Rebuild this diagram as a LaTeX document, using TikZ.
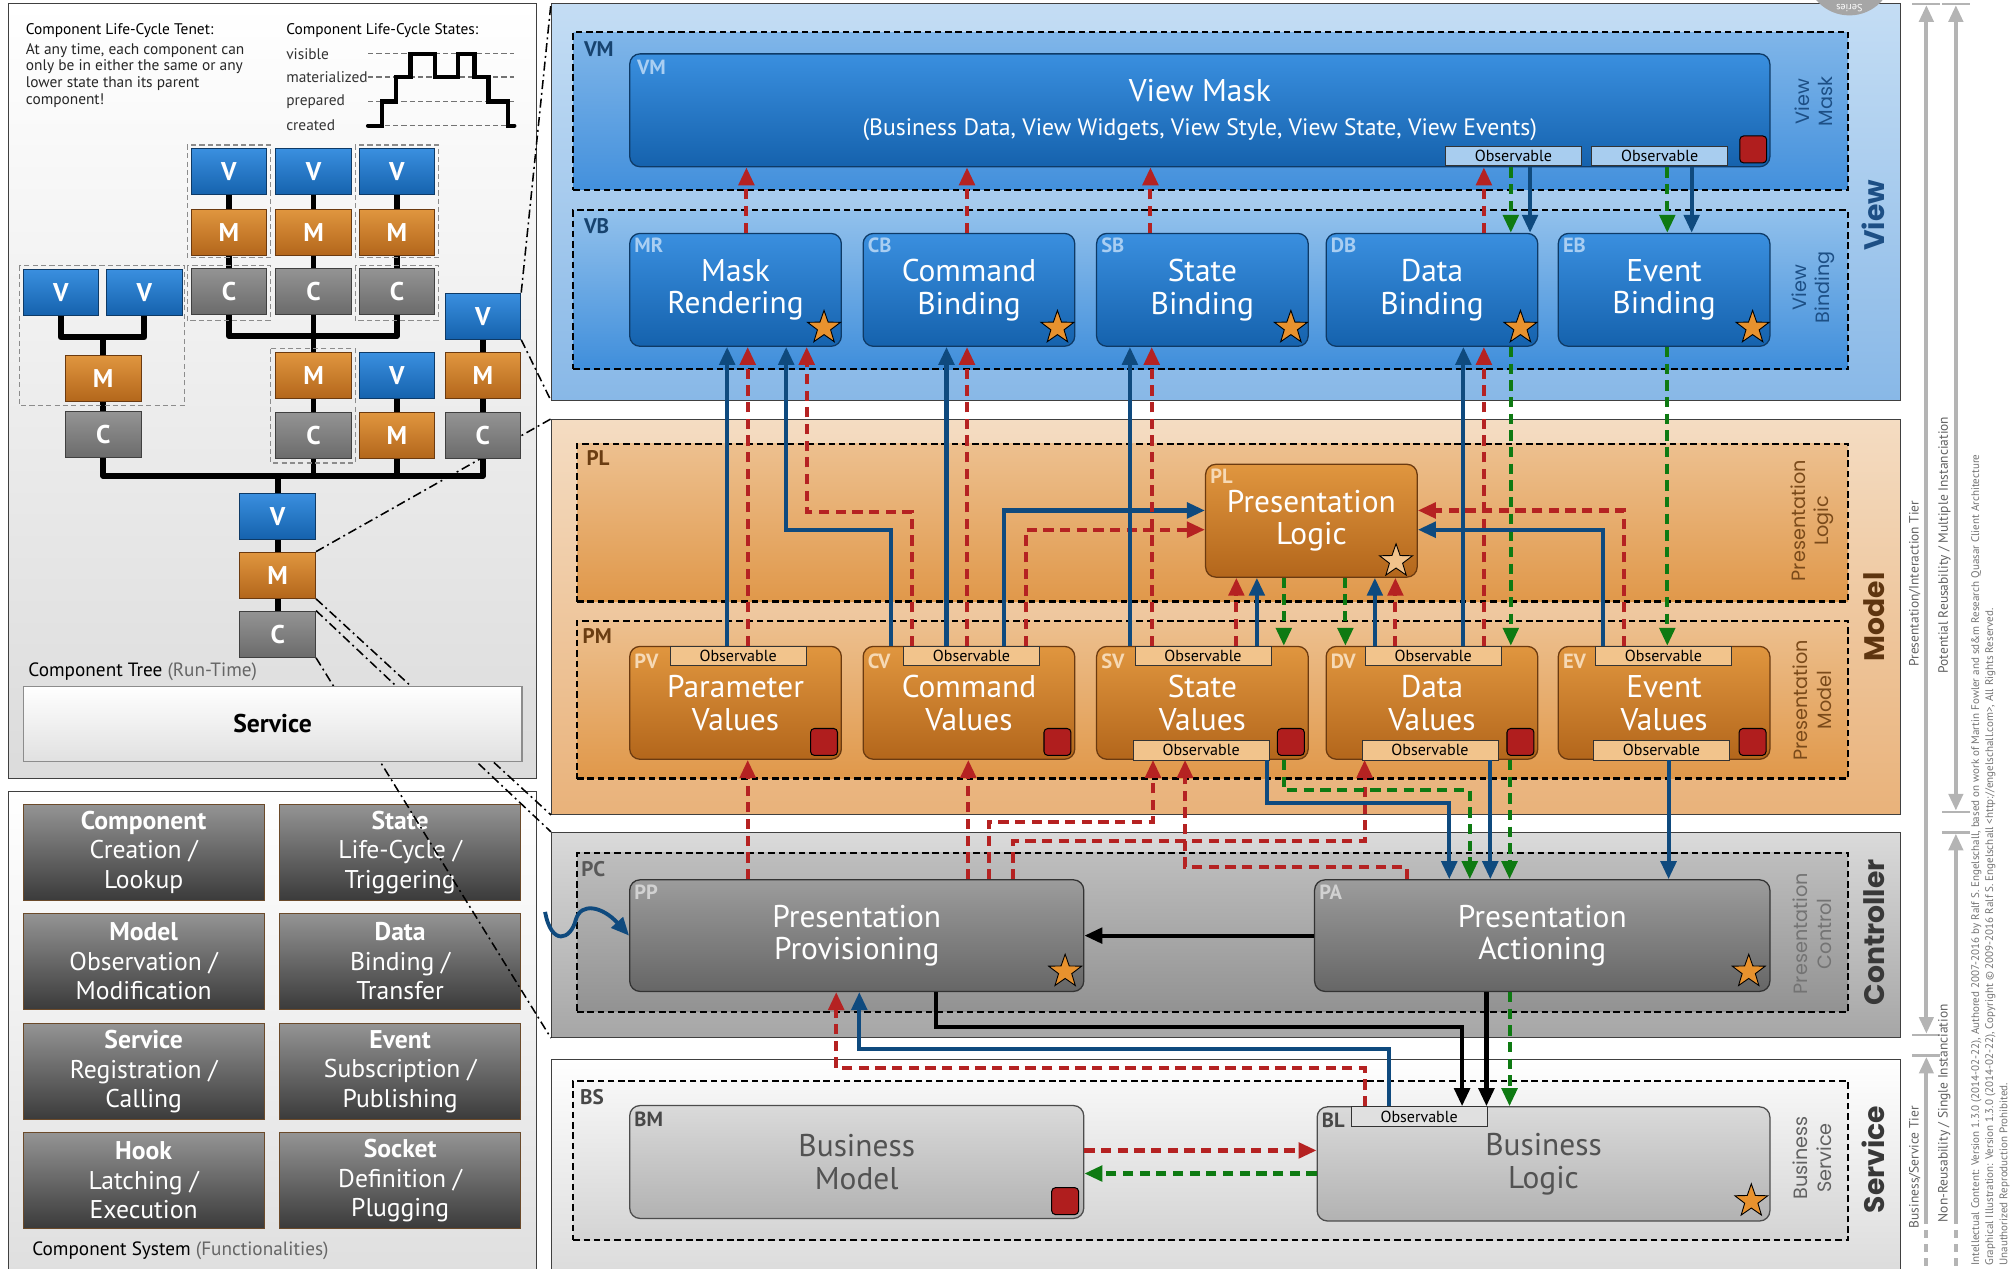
\documentclass[tikz,border=0pt]{standalone}
\usepackage{fontspec}
\setmainfont{PT Sans}
\newfontfamily\geo{Poppins}
\usetikzlibrary{arrows.meta,shapes.geometric,calc}
\definecolor{cblue}{HTML}{0F4A7E}
\definecolor{cred}{HTML}{B52222}
\definecolor{cgreen}{HTML}{0E7A12}
\definecolor{btop}{HTML}{3A8FDF}
\definecolor{bbot}{HTML}{1562AD}
\definecolor{bbd}{HTML}{0E3A66}
\definecolor{otop}{HTML}{E0963F}
\definecolor{obot}{HTML}{B3661B}
\definecolor{obd}{HTML}{6B3A10}
\definecolor{gtop}{HTML}{9C9C9C}
\definecolor{gbot}{HTML}{666666}
\definecolor{ltop}{HTML}{DADADA}
\definecolor{lbot}{HTML}{B2B2B2}
\definecolor{staror}{HTML}{E8922E}
\definecolor{sqred}{HTML}{B01E1E}
\definecolor{rgrey}{HTML}{B4B4B4}
\definecolor{obsblue}{HTML}{A8CDEF}
\definecolor{obsor}{HTML}{F2C48C}
\definecolor{vtop}{HTML}{C4DDF4}
\definecolor{vbot}{HTML}{88B8E7}
\definecolor{vmtop}{HTML}{80B6E9}
\definecolor{vmbot}{HTML}{4390DC}
\definecolor{vbtop}{HTML}{92C1EC}
\definecolor{vbbot}{HTML}{3F8EDB}
\definecolor{mtop}{HTML}{F4DCC2}
\definecolor{mbot}{HTML}{E9B27A}
\definecolor{pltop}{HTML}{EDC08F}
\definecolor{plbot}{HTML}{E0984A}
\definecolor{ctop}{HTML}{DADADA}
\definecolor{cbot}{HTML}{A6A6A6}
\definecolor{pctop}{HTML}{BEBEBE}
\definecolor{pcbot}{HTML}{929292}
\definecolor{fbd}{HTML}{6B4A2A}
\definecolor{blbl}{HTML}{A9CEF2}
\definecolor{orlbl}{HTML}{F6D9B5}
\definecolor{vtxt}{HTML}{17436F}
\definecolor{mtxt}{HTML}{6A3D12}
\definecolor{vlbl}{HTML}{1D4F85}
\definecolor{mlbl}{HTML}{7A4A1A}
\definecolor{mtier}{HTML}{5E3510}
\pgfdeclarelayer{panels}
\pgfdeclarelayer{lines}
\pgfsetlayers{panels,lines,main}
\begin{document}
\begin{tikzpicture}[x=1pt,y=-1pt,
  >={Triangle[length=14pt,width=12pt]},
  panel/.style={draw=black!75, line width=0.8pt, inner sep=0pt},
  zone/.style={draw=black, line width=1.7pt, dash pattern=on 5pt off 3pt, inner sep=0pt},
  basebox/.style={rounded corners=8pt, line width=1pt, align=center, inner sep=0pt, font=\fontsize{24.5}{25.5}\selectfont},
  bbox/.style={basebox, draw=bbd, top color=btop, bottom color=bbot, text=white},
  obox/.style={basebox, draw=obd, top color=otop, bottom color=obot, text=white},
  gbox/.style={basebox, draw=black!80, top color=gtop, bottom color=gbot, text=white},
  lbox/.style={basebox, draw=black!70, top color=ltop, bottom color=lbot, text=black!68},
  sbox/.style={minimum width=165, minimum height=88},
  wbox/.style={minimum width=354, minimum height=88},
  obstag/.style={draw=black!80, line width=0.6pt, minimum width=106, minimum height=15, inner sep=0pt, font=\fontsize{12.5}{12.5}\selectfont},
  obsb/.style={obstag, fill=obsblue}, obso/.style={obstag, fill=obsor}, obsl/.style={obstag, fill=black!12},
  rsq/.style={rounded corners=3pt, fill=sqred, draw=black, line width=0.8pt, minimum width=21, minimum height=21, inner sep=0pt},
  starn/.style={star, star points=5, star point ratio=2.5, minimum size=27, inner sep=0pt, fill=staror, draw=black, line width=0.7pt},
  taglbl/.style={anchor=north west, inner sep=0pt, font=\bfseries\fontsize{16}{16}\selectfont},
  zonelbl/.style={anchor=north west, inner sep=0pt, font=\bfseries\fontsize{16.5}{16.5}\selectfont},
  vlab/.style={rotate=90, align=center, inner sep=0pt, font=\geo\fontsize{15}{18}\selectfont},
  tierlbl/.style={rotate=90, inner sep=0pt, font=\geo\bfseries\fontsize{22}{22}\selectfont},
  lnblue/.style={draw=cblue, line width=3.2pt},
  lnred/.style={draw=cred, line width=3.2pt, dash pattern=on 8pt off 5pt},
  lngreen/.style={draw=cgreen, line width=3.2pt, dash pattern=on 8pt off 5pt},
  lnblack/.style={draw=black, line width=3.2pt},
  tnode/.style={minimum width=59, minimum height=36, inner sep=0pt, line width=0.8pt, text=white, font=\bfseries\fontsize{20}{20}\selectfont},
  tvbox/.style={tnode, draw=bbd, top color=btop, bottom color=bbot},
  tmbox/.style={tnode, draw=obd, top color=otop, bottom color=obot},
  tcbox/.style={tnode, draw=black!75, top color=black!42, bottom color=black!58},
  treeln/.style={line width=4.5pt, line join=round},
  grpbox/.style={draw=black!45, line width=0.9pt, dash pattern=on 4pt off 2.5pt},
  zoomln/.style={draw=black, line width=1.2pt, dash pattern=on 7pt off 3pt on 1.5pt off 3pt},
  fbox/.style={minimum width=188, minimum height=75, inner sep=0pt, draw=fbd, line width=0.9pt, top color=black!42, bottom color=black!77, text=white, align=center, font=\fontsize{20}{23}\selectfont},
  stripln/.style={draw=rgrey, line width=3pt},
  striptxt/.style={rotate=90, inner sep=0pt, text=black!62, font=\fontsize{10.5}{11}\selectfont},
  copytxt/.style={rotate=90, anchor=west, inner sep=0pt, text=black!55, font=\fontsize{8.6}{9}\selectfont},
]
\useasboundingbox (0,0) rectangle (1568,989);

% ================= PANELS =================
\begin{pgfonlayer}{panels}
\node[panel, top color=white, bottom color=black!14, minimum width=411, minimum height=604] (treepanel) at (212.5,305) {};
\node[panel, top color=white, bottom color=black!13, minimum width=411, minimum height=390] (funcpanel) at (212.5,812) {};
\node[panel, top color=vtop, bottom color=vbot, minimum width=1052, minimum height=309] (view) at (956,157.5) {};
\node[panel, top color=mtop, bottom color=mbot, minimum width=1052, minimum height=308] (model) at (956,481) {};
\node[panel, top color=ctop, bottom color=cbot, minimum width=1052, minimum height=160] (ctrl) at (956,729) {};
\node[panel, top color=white, bottom color=black!15, minimum width=1052, minimum height=180] (serv) at (956,916) {};
% zones
\node[zone, top color=vmtop, bottom color=vmbot, minimum width=994, minimum height=123] (vmz) at (944,86.5) {};
\node[zone, top color=vbtop, bottom color=vbbot, minimum width=994, minimum height=124] (vbz) at (944,226) {};
\node[zone, top color=pltop, bottom color=plbot, minimum width=991, minimum height=123] (plz) at (945.5,407.5) {};
\node[zone, top color=pltop, bottom color=plbot, minimum width=991, minimum height=123] (pmz) at (945.5,545.5) {};
\node[zone, top color=pctop, bottom color=pcbot, minimum width=991, minimum height=124] (pcz) at (945.5,727) {};
\node[zone, top color=black!3, bottom color=black!17, minimum width=994, minimum height=124] (bsz) at (944,905) {};
% function boxes
\node[fbox] (fb1) at (112,664.5) {\textbf{Component}\\Creation /\\Lookup};
\node[fbox] (fb2) at (312,664.5) {\textbf{State}\\Life-Cycle /\\Triggering};
\node[fbox] (fb3) at (112,749.5) {\textbf{Model}\\Observation /\\Modification};
\node[fbox] (fb4) at (312,749.5) {\textbf{Data}\\Binding /\\Transfer};
\node[fbox] (fb5) at (112,835.5) {\textbf{Service}\\Registration /\\Calling};
\node[fbox] (fb6) at (312,835.5) {\textbf{Event}\\Subscription /\\Publishing};
\node[fbox] (fb7) at (112,920.5) {\textbf{Hook}\\Latching /\\Execution};
\node[fbox] (fb8) at (312,920.5) {\textbf{Socket}\\Definition /\\Plugging};
\end{pgfonlayer}

% zone labels
\node[zonelbl, text=vtxt] (vmzl) at ($(vmz.north west)+(9,8)$) {VM};
\node[zonelbl, text=vtxt] (vbzl) at ($(vbz.north west)+(9,7)$) {VB};
\node[zonelbl, text=mtxt] (plzl) at ($(plz.north west)+(8,6)$) {PL};
\node[zonelbl, text=mtxt] (pmzl) at ($(pmz.north west)+(5,7)$) {PM};
\node[zonelbl, text=black!65] (pczl) at ($(pcz.north west)+(4,7)$) {PC};
\node[zonelbl, text=black!72] (bszl) at ($(bsz.north west)+(6,7)$) {BS};

% vertical sub-layer labels
\node[vlab, text=vlbl] (lvm) at (1414,79) {View\\Mask};
\node[vlab, text=vlbl] (lvb) at (1414,224) {View\\Binding};
\node[vlab, text=mlbl] (lpl) at (1413,406) {Presentation\\Logic};
\node[vlab, text=mlbl] (lpm) at (1413,546) {Presentation\\Model};
\node[vlab, text=black!55] (lpc) at (1413,728) {Presentation\\Control};
\node[vlab, text=black!62] (lbs) at (1413,903) {Business\\Service};
% tier labels
\node[tierlbl, text=vlbl] (tview) at (1461,168) {View};
\node[tierlbl, text=mtier] (tmodel) at (1461,481) {Model};
\node[tierlbl, text=black!78] (tctrl) at (1461,727) {Controller};
\node[tierlbl, text=black!78] (tserv) at (1461,904) {Service};

% series badge
\fill[black!35] (1442,-22) circle (34);
\node[rotate=180, inner sep=0pt, text=white, font=\fontsize{8}{8}\selectfont] (series) at (1442,6) {Series};

% ================= TOP LEFT TEXT =================
\node[anchor=base west, inner sep=0pt, font=\fontsize{12}{13}\selectfont] (tenet) at (20,27) {Component Life-Cycle Tenet:};
\node[anchor=north west, inner sep=0pt, align=left, text=black!85, font=\fontsize{12}{13}\selectfont] (tenettxt) at (20,33.5) {At any time, each component can\\only be in either the same or any\\lower state than its parent\\component!};
\node[anchor=base west, inner sep=0pt, font=\fontsize{12}{13}\selectfont] (states) at (223,27) {Component Life-Cycle States:};
\node[anchor=west, inner sep=0pt, text=black!80, font=\fontsize{12}{13}\selectfont] (stvis) at (223,42) {visible};
\node[anchor=west, inner sep=0pt, text=black!80, font=\fontsize{12}{13}\selectfont] (stmat) at (223,60) {materialized};
\node[anchor=west, inner sep=0pt, text=black!80, font=\fontsize{12}{13}\selectfont] (stprep) at (223,79) {prepared};
\node[anchor=west, inner sep=0pt, text=black!80, font=\fontsize{12}{13}\selectfont] (stcre) at (223,98) {created};
\foreach \yy in {42,60,79,98} \draw[black!55, line width=0.9pt, dash pattern=on 4pt off 2.5pt] (287,\yy) -- (401,\yy);
\draw[black, line width=3.4pt, line cap=round, line join=miter] (287,98) -- (298,98) -- (298,79) -- (309,79) -- (309,60) -- (320,60) -- (320,42) -- (339,42) -- (339,60) -- (357,60) -- (357,42) -- (370,42) -- (370,60) -- (381,60) -- (381,79) -- (396,79) -- (396,98) -- (401,98);

% ================= TREE =================
\node[tvbox] (v1) at (178.5,134) {V};
\node[tvbox] (v2) at (244.5,134) {V};
\node[tvbox] (v3) at (309.5,134) {V};
\node[tmbox] (m1) at (178.5,181) {M};
\node[tmbox] (m2) at (244.5,181) {M};
\node[tmbox] (m3) at (309.5,181) {M};
\node[tcbox] (c1) at (178.5,227) {C};
\node[tcbox] (c2) at (244.5,227) {C};
\node[tcbox] (c3) at (309.5,227) {C};
\node[tvbox] (lv1) at (47.5,228) {V};
\node[tvbox] (lv2) at (112.5,228) {V};
\node[tvbox] (rv) at (376.5,246.5) {V};
\node[tmbox] (lm) at (80.5,295) {M};
\node[tmbox] (mm) at (244.5,293) {M};
\node[tvbox] (v4) at (309.5,293) {V};
\node[tmbox] (rm) at (376.5,293) {M};
\node[tcbox] (lc) at (80.5,339) {C};
\node[tcbox] (mc) at (244.5,339.5) {C};
\node[tmbox] (m4) at (309.5,339.5) {M};
\node[tcbox] (rc) at (376.5,339.5) {C};
\node[tvbox] (rootv) at (216.5,402.5) {V};
\node[tmbox] (rootm) at (216.5,448.5) {M};
\node[tcbox] (rootc) at (216.5,494.5) {C};
\draw[grpbox] (146,113) rectangle (211,201);
\draw[grpbox] (277,113) rectangle (342,201);
\draw[grpbox] (146,207) rectangle (211,250);
\draw[grpbox] (277,207) rectangle (342,250);
\draw[grpbox] (15,207) rectangle (144,316);
\draw[grpbox] (211,272) rectangle (277,361);

\begin{pgfonlayer}{lines}
\draw[treeln] (v1) -- (c1);
\draw[treeln] (v2) -- (c2);
\draw[treeln] (v3) -- (c3);
\draw[treeln] (c1.south) -- (c1.south |- 0,262) -- (c3.south |- 0,262) -- (c3.south);
\draw[treeln] (c2) -- (mc);
\draw[treeln] (lv1.south) -- (lv1.south |- 0,263) -- (lv2.south |- 0,263) -- (lv2.south);
\draw[treeln] (lm |- 0,263) -- (lc);
\draw[treeln] (rv) -- (rc);
\draw[treeln] (v4) -- (m4);
\draw[treeln] (lc.south) -- (lc.south |- 0,371) -- (rc.south |- 0,371) -- (rc.south);
\draw[treeln] (mc.south) -- (mc.south |- 0,371);
\draw[treeln] (m4.south) -- (m4.south |- 0,371);
\draw[treeln] (rootv |- 0,371) -- (rootc);
\draw[zoomln] (rv.north east) -- (view.north west);
\draw[zoomln] (rv.south east) -- (view.south west);
\draw[zoomln] (rootm.north east) -- (model.north west);
\draw[zoomln] (rootm.south east) -- (model.south west);
\draw[zoomln] (rootc.north east) -- (ctrl.north west);
\draw[zoomln] (rootc.south east) -- (ctrl.south west);
\end{pgfonlayer}

\node[anchor=west, inner sep=0pt, font=\fontsize{15}{15}\selectfont] (ctlabel) at (22,524) {Component Tree \textcolor{black!60}{(Run-Time)}};
\node[draw=black!45, line width=0.9pt, top color=white, bottom color=black!12, minimum width=389, minimum height=59, inner sep=0pt, font=\bfseries\fontsize{20}{20}\selectfont] (svcbox) at (212.5,564.5) {Service};
\node[anchor=west, inner sep=0pt, font=\fontsize{15}{15}\selectfont] (cslabel) at (25,975) {Component System \textcolor{black!60}{(Functionalities)}};

% ================= VIEW =================
\node[bbox, minimum width=889, minimum height=88] (vm) at (935.5,86) {View Mask\\[1pt]{\fontsize{18.5}{19}\selectfont (Business Data, View Widgets, View Style, View State, View Events)}};
\node[taglbl, text=blbl] (vmt) at ($(vm.north west)+(6,5)$) {VM};
\node[obsb] (vmo1) at (1180,121.5) {Observable};
\node[obsb] (vmo2) at (1294,121.5) {Observable};
\node[rsq] (vmsq) at (1367,116.5) {};

\node[bbox, sbox] (mr) at (573.5,226) {Mask\\Rendering};
\node[bbox, sbox] (cb) at (755.5,226) {Command\\Binding};
\node[bbox, sbox] (sb) at (937.5,226) {State\\Binding};
\node[bbox, sbox] (db) at (1116.5,226) {Data\\Binding};
\node[bbox, sbox] (eb) at (1297.5,226) {Event\\Binding};
\foreach \n/\t in {mr/MR,cb/CB,sb/SB,db/DB,eb/EB} {
  \node[taglbl, text=blbl] (\n tag) at ($(\n.north west)+(4,4)$) {\t};
  \node[starn] (\n star) at ($(\n.south east)+(-14,-15)$) {};
}

% ================= MODEL =================
\node[obox, sbox, minimum height=88] (pl) at (1022.5,406) {Presentation\\Logic};
\node[taglbl, text=orlbl] (pltag) at ($(pl.north west)+(4,4)$) {PL};
\node[starn, fill=staror!55] (plstar) at ($(pl.south east)+(-17,-13)$) {};

\node[obox, sbox] (pv) at (573.5,548) {Parameter\\Values};
\node[obox, sbox] (cv) at (755.5,548) {Command\\Values};
\node[obox, sbox] (sv) at (937.5,548) {State\\Values};
\node[obox, sbox] (dv) at (1116.5,548) {Data\\Values};
\node[obox, sbox] (ev) at (1297.5,548) {Event\\Values};
\foreach \n/\t in {pv/PV,cv/CV,sv/SV,dv/DV,ev/EV} {
  \node[taglbl, text=orlbl] (\n tag) at ($(\n.north west)+(4,6)$) {\t};
  \node[rsq] (\n sq) at ($(\n.south east)+(-14,-14)$) {};
}
\node[obso] (pvo) at (575.5,511.5) {Observable};
\node[obso] (cvo) at (757.5,511.5) {Observable};
\node[obso] (svo) at (938,511.5) {Observable};
\node[obso] (dvo) at (1117.5,511.5) {Observable};
\node[obso] (evo) at (1297,511.5) {Observable};
\node[obso] (svb) at (936.5,585) {Observable};
\node[obso] (dvb) at (1115,585) {Observable};
\node[obso] (evb) at (1295.5,585) {Observable};

% ================= CONTROLLER / SERVICE =================
\node[gbox, wbox, minimum height=87] (pp) at (668,729.5) {Presentation\\Provisioning};
\node[gbox, wbox, minimum width=355, minimum height=87] (pa) at (1202.5,729.5) {Presentation\\Actioning};
\node[taglbl, text=black!18] (pptag) at ($(pp.north west)+(4,4)$) {PP};
\node[taglbl, text=black!18] (patag) at ($(pa.north west)+(4,4)$) {PA};
\node[starn] (ppstar) at ($(pp.south east)+(-15,-16)$) {};
\node[starn] (pastar) at ($(pa.south east)+(-17,-16)$) {};

\node[lbox, wbox] (bm) at (668,906) {Business\\Model};
\node[lbox, wbox, minimum width=353, minimum height=89] (bl) at (1203.5,907.5) {Business\\Logic};
\node[taglbl, text=black!72] (bmtag) at ($(bm.north west)+(4,5)$) {BM};
\node[taglbl, text=black!72] (bltag) at ($(bl.north west)+(4,5)$) {BL};
\node[obsl] (blo) at (1106.5,870.5) {Observable};
\node[rsq] (bmsq) at ($(bm.south east)+(-15,-14)$) {};
\node[starn] (blstar) at ($(bl.south east)+(-15,-16)$) {};

% ================= CONNECTORS: VIEW =================
\draw[lnred,->] (582,0 |- mr.north) -- (582,0 |- vm.south);
\draw[lnred,->] (754,0 |- cb.north) -- (754,0 |- vm.south);
\draw[lnred,->] (897,0 |- sb.north) -- (897,0 |- vm.south);
\draw[lnred,->] (1157,0 |- db.north) -- (1157,0 |- vm.south);
\draw[lngreen,->] (1178,0 |- vm.south) -- (1178,0 |- db.north);
\draw[lnblue,->] (1193,0 |- vm.south) -- (1193,0 |- db.north);
\draw[lngreen,->] (1300,0 |- vm.south) -- (1300,0 |- eb.north);
\draw[lnblue,->] (1319,0 |- vm.south) -- (1319,0 |- eb.north);

% ================= CONNECTORS: MODEL -> VIEW / PL =================
\draw[lnblue,->] (567,0 |- pv.north) -- (567,0 |- mr.south);
\draw[lnred,->] (583,0 |- pv.north) -- (583,0 |- mr.south);
\draw[lnblue,->] (695,0 |- cv.north) -- (695,413) -- (613,413) -- (613,0 |- mr.south);
\draw[lnred,->] (711,0 |- cv.north) -- (711,399) -- (629,399) -- (629,0 |- mr.south);
\draw[lnblue,->] (738,0 |- cv.north) -- (738,0 |- cb.south);
\draw[lnred,->] (754,0 |- cv.north) -- (754,0 |- cb.south);
\draw[lnblue,->] (783,0 |- cv.north) -- (783,398) -- (pl.west |- 0,398);
\draw[lnred,->] (800,0 |- cv.north) -- (800,413) -- (pl.west |- 0,413);
\draw[lnblue,->] (881,0 |- sv.north) -- (881,0 |- sb.south);
\draw[lnred,->] (898,0 |- sv.north) -- (898,0 |- sb.south);
\draw[lnred,->] (964,0 |- sv.north) -- (964,0 |- pl.south);
\draw[lnblue,->] (980,0 |- sv.north) -- (980,0 |- pl.south);
\draw[lngreen,->] (1001,0 |- pl.south) -- (1001,0 |- sv.north);
\draw[lngreen,->] (1049,0 |- pl.south) -- (1049,0 |- dv.north);
\draw[lnblue,->] (1072,0 |- dv.north) -- (1072,0 |- pl.south);
\draw[lnred,->] (1088,0 |- dv.north) -- (1088,0 |- pl.south);
\draw[lnblue,->] (1141,0 |- dv.north) -- (1141,0 |- db.south);
\draw[lnred,->] (1157,0 |- dv.north) -- (1157,0 |- db.south);
\draw[lngreen,->] (1178,0 |- db.south) -- (1178,0 |- dv.north);
\draw[lnred,->] (1266,0 |- ev.north) -- (1266,398) -- (pl.east |- 0,398);
\draw[lnblue,->] (1250,0 |- ev.north) -- (1250,413) -- (pl.east |- 0,413);
\draw[lngreen,->] (1300,0 |- eb.south) -- (1300,0 |- ev.north);

% ================= CONNECTORS: MODEL <-> CONTROLLER =================
\draw[lnred,->] (583,0 |- pp.north) -- (583,0 |- pv.south);
\draw[lnred,->] (755,0 |- pp.north) -- (755,0 |- cv.south);
\draw[lnred,->] (771,0 |- pp.north) -- (771,641) -- (899,641) -- (899,0 |- sv.south);
\draw[lnred,->] (790,0 |- pp.north) -- (790,656) -- (1064,656) -- (1064,0 |- dv.south);
\draw[lnred,->] (1097,0 |- pa.north) -- (1097,676) -- (924,676) -- (924,0 |- sv.south);
\draw[lnblue,->] (988,0 |- sv.south) -- (988,626) -- (1130,626) -- (1130,0 |- pa.north);
\draw[lngreen,->] (1001,0 |- sv.south) -- (1001,616) -- (1146,616) -- (1146,0 |- pa.north);
\draw[lnblue,->] (1162,0 |- dv.south) -- (1162,0 |- pa.north);
\draw[lngreen,->] (1177,0 |- dv.south) -- (1177,0 |- pa.north);
\draw[lnblue,->] (1301,0 |- ev.south) -- (1301,0 |- pa.north);

% ================= CONNECTORS: CONTROLLER <-> SERVICE =================
\draw[lnblack,->] (pa.west) -- (pp.east);
\draw[lnblack,->] (730,0 |- pp.south) -- (730,801) -- (1140,801) -- (1140,0 |- bl.north);
\draw[lnblack,->] (1159,0 |- pa.south) -- (1159,0 |- bl.north);
\draw[lngreen,->] (1177,0 |- pa.south) -- (1177,0 |- bl.north);
\draw[lnblue,->] (1083,0 |- bl.north) -- (1083,818) -- (670,818) -- (670,0 |- pp.south);
\draw[lnred,->] (1064,0 |- bl.north) -- (1064,833) -- (652,833) -- (652,0 |- pp.south);
\draw[lnred,->] (bm.east |- 0,897) -- (bl.west |- 0,897);
\draw[lngreen,->] (bl.west |- 0,915) -- (bm.east |- 0,915);
\coordinate (wavestart) at (425,711);
\draw[lnblue, line width=3pt, ->] (wavestart) .. controls (430,738) and (445,733) .. (449,717) .. controls (453,703) and (470,707) .. (pp.west);

% ================= RIGHT STRIP =================
\coordinate (a1top) at (1502,4);
\coordinate (a1mid) at (1502,806);
\coordinate (a1low) at (1502,824);
\coordinate (a1end) at (1502,948);
\coordinate (a1bot) at (1502,992);
\coordinate (a2top) at (1525,4);
\coordinate (a2mid) at (1525,632);
\coordinate (a2low) at (1525,650);
\coordinate (a2end) at (1525,948);
\coordinate (a2bot) at (1525,992);
\draw[stripln, {Triangle[length=13pt,width=11pt]}-{Triangle[length=13pt,width=11pt]}] (a1top) -- (a1mid);
\draw[stripln, {Triangle[length=13pt,width=11pt]}-] (a1low) -- (a1end);
\draw[stripln, dash pattern=on 6pt off 5pt] (a1end) -- (a1bot);
\draw[stripln, {Triangle[length=13pt,width=11pt]}-{Triangle[length=13pt,width=11pt]}] (a2top) -- (a2mid);
\draw[stripln, {Triangle[length=13pt,width=11pt]}-] (a2low) -- (a2end);
\draw[stripln, dash pattern=on 6pt off 5pt] (a2end) -- (a2bot);
\foreach \yy in {3,807,823} \draw[rgrey, line width=2pt] (1491,\yy) -- (1513,\yy);
\foreach \yy in {3,633,649} \draw[rgrey, line width=2pt] (1514,\yy) -- (1536,\yy);
\node[striptxt] (t1) at (1493,455) {Presentation/Interaction Tier};
\node[striptxt] (t2) at (1493,910) {Business/Service Tier};
\node[striptxt] (t3) at (1516,425) {Potential Reusability / Multiple Instanciation};
\node[striptxt] (t4) at (1516,868) {Non-Reusability / Single Instanciation};
\node[copytxt] (cp1) at (1541,987) {Intellectual Content: Version 1.3.0 (2014-02-22), Authored 2007-2016 by Ralf S. Engelschall, based on work of Martin Fowler and sd\&m Research Quasar Client Architecture};
\node[copytxt] (cp2) at (1552,987) {Graphical Illustration: Version 1.3.0 (2014-02-22), Copyright © 2009-2016 Ralf S. Engelschall <http://engelschall.com>, All Rights Reserved.};
\node[copytxt] (cp3) at (1563,987) {Unauthorized Reproduction Prohibited.};
\end{tikzpicture}
\end{document}
